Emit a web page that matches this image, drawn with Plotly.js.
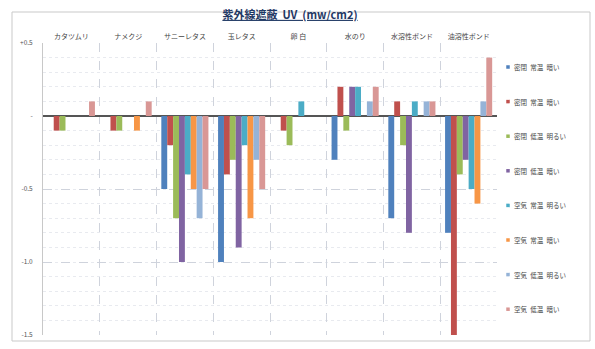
<!DOCTYPE html>
<html>
<head>
<meta charset="utf-8">
<script src="https://cdn.plot.ly/plotly-3.0.1.min.js"></script>
<style>
  html, body { margin: 0; padding: 0; background: #fff; }
  #chart { width: 595px; height: 349px; }
</style>
</head>
<body>
<div id="chart"></div>
<script>
// Materials tested
const categories = ['カタツムリ', 'ナメクジ', 'サニーレタス', '玉レタス', '卵 白', '水のり', '水溶性ボンド', '油溶性ボンド'];

// Condition names (storage × temperature × light)
const seriesNames = [
  '密閉\u2002常温\u2002暗い',
  '密閉\u2002常温\u2002暗い',
  '密閉\u2002低温\u2002明るい',
  '密閉\u2002低温\u2002暗い',
  '空気\u2002常温\u2002明るい',
  '空気\u2002常温\u2002暗い',
  '空気\u2002低温\u2002明るい',
  '空気\u2002低温\u2002暗い'
];

// UV shielding values (mw/cm2) per condition, one entry per material
const s1 = [0, 0, -0.5, -1.0, 0, -0.3, -0.7, -0.8];
const s2 = [-0.1, -0.1, -0.2, -0.4, -0.1, 0.2, 0.1, -1.5];
const s3 = [-0.1, -0.1, -0.7, -0.3, -0.2, -0.1, -0.2, -0.4];
const s4 = [0, 0, -1.0, -0.9, 0, 0.2, -0.8, -0.3];
const s5 = [0, 0, -0.4, -0.2, 0.1, 0.2, 0.1, -0.5];
const s6 = [0, -0.1, -0.5, -0.7, 0, 0, 0, -0.6];
const s7 = [0, 0, -0.7, -0.3, 0, 0.1, 0.1, 0.1];
const s8 = [0.1, 0.1, -0.5, -0.5, 0, 0.2, 0.1, 0.4];
const seriesValues = [s1, s2, s3, s4, s5, s6, s7, s8];

// Y axis tick labels
const yTickVals = [0.5, 0, -0.5, -1.0, -1.5];
const yTickText = ['+0.5', '-', '-0.5', '-1.0', '-1.5'];

const colors = ['#4F81BD', '#C0504D', '#9BBB59', '#8064A2', '#4BACC6', '#F79646', '#95B3D7', '#D99795'];

const FONT = '"Noto Sans CJK JP", "Noto Sans", sans-serif';

const traces = seriesValues.map((vals, i) => ({
  type: 'bar',
  x: categories,
  y: vals,
  name: seriesNames[i],
  marker: { color: colors[i] },
  showlegend: false,
  hoverinfo: 'x+y'
}));

// Plot-area pixel geometry (used for the frame and the side key)
const L = 43, R = 98, T = 43, B = 14, W = 595, H = 349;
const pw = W - L - R, ph = H - T - B;
const px = v => (v - L) / pw;
const py = v => (H - B - v) / ph;

// Side key: small colour squares with their condition names
const keyX = 508, keyY0 = 67, keyStep = 34.6, sw = 3.5;
const keyShapes = seriesNames.map((_, i) => {
  const cy = keyY0 + i * keyStep;
  return {
    type: 'rect', xref: 'paper', yref: 'paper',
    x0: px(keyX - sw / 2), x1: px(keyX + sw / 2),
    y0: py(cy + sw / 2), y1: py(cy - sw / 2),
    fillcolor: colors[i], line: { width: 0 }
  };
});
const keyLabels = seriesNames.map((name, i) => ({
  xref: 'paper', yref: 'paper',
  x: px(keyX + 4), y: py(keyY0 + i * keyStep),
  xanchor: 'left', yanchor: 'middle',
  text: name, showarrow: false,
  font: { family: FONT, size: 6.5, color: '#444' }
}));

const layout = {
  width: W,
  height: H,
  margin: { l: L, r: R, t: T, b: B, autoexpand: false },
  paper_bgcolor: '#fff',
  plot_bgcolor: '#fff',
  font: { family: FONT, size: 7, color: '#444' },
  barmode: 'group',
  bargap: 0.17,
  bargroupgap: 0,
  showlegend: false,
  title: {
    text: '<b><span style="text-decoration:underline">紫外線遮蔽  UV  (mw/cm2)</span></b>',
    font: { family: FONT, size: 11, color: '#1F3864' },
    x: px(290),
    xref: 'paper',
    xanchor: 'center',
    y: 1 - 15 / H,
    yref: 'container',
    yanchor: 'middle'
  },
  xaxis: {
    type: 'category',
    side: 'top',
    tickson: 'boundaries',
    ticks: '',
    showgrid: true,
    gridcolor: '#cfd3dc',
    griddash: 'dash',
    gridwidth: 1,
    showline: false,
    zeroline: false,
    tickfont: { family: FONT, size: 7, color: '#444' },
    ticklabelstandoff: 2
  },
  yaxis: {
    range: [-1.5, 0.5],
    tickvals: yTickVals,
    ticktext: yTickText,
    tickfont: { family: FONT, size: 6.5, color: '#555' },
    ticks: '',
    ticklabelstandoff: 8,
    showgrid: true,
    gridcolor: '#cfd3dc',
    griddash: 'dash',
    gridwidth: 1,
    minor: {
      dtick: 0.1,
      tick0: 0,
      showgrid: true,
      gridcolor: '#e8eaef',
      griddash: 'dot',
      gridwidth: 1
    },
    showline: true,
    linecolor: '#c8c8c8',
    linewidth: 1,
    zeroline: true,
    zerolinecolor: '#555',
    zerolinewidth: 1.5
  },
  annotations: keyLabels,
  shapes: [
    {
      type: 'rect',
      xref: 'paper', yref: 'paper',
      x0: px(12), x1: px(590),
      y0: py(341), y1: py(12),
      line: { color: '#c9c9c9', width: 1 },
      fillcolor: 'rgba(0,0,0,0)',
      layer: 'below'
    }
  ].concat(keyShapes)
};

Plotly.newPlot('chart', traces, layout, { displayModeBar: false, staticPlot: true });
</script>
</body>
</html>
